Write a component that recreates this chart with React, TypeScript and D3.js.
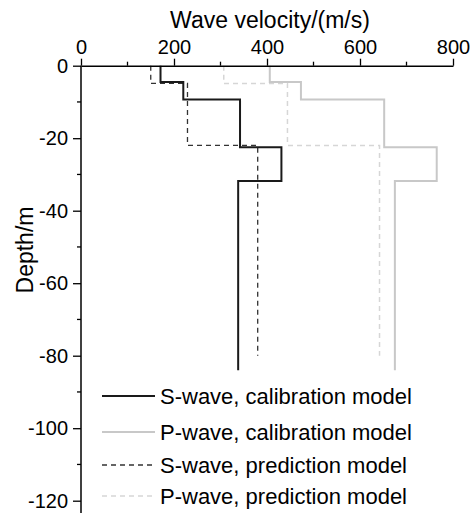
import React, { useEffect, useRef } from 'react';
import * as d3 from 'd3';

// layer boundaries (depth, m) and layer velocities (m/s)
const calDepths = [0, -4.5, -9.3, -22.5, -31.8, -84];
const sCalVel = [171, 220, 342, 431, 338];
const pCalVel = [406, 473, 652, 765, 675];

const predDepths = [0, -4.9, -22, -80];
const sPredVel = [150, 229, 380];
const pPredVel = [307, 444, 642];

const xTicks = [0, 200, 400, 600, 800];
const yTicks = [0, -20, -40, -60, -80, -100, -120];

const legendItems = [
  'S-wave, calibration model',
  'P-wave, calibration model',
  'S-wave, prediction model',
  'P-wave, prediction model',
];

const W = 471;
const H = 513;
const FONT = 'Liberation Sans, Arial, sans-serif';

const toSteps = (vel: number[], depths: number[]) => {
  const pts: [number, number][] = [];
  vel.forEach((v, i) => {
    pts.push([v, depths[i]]);
    pts.push([v, depths[i + 1]]);
  });
  return pts;
};

const App = () => {
  const svgRef = useRef<SVGSVGElement>(null);

  useEffect(() => {
    const svg = d3.select(svgRef.current);
    svg.selectAll('*').remove();

    const x = d3.scaleLinear().domain([0, 800]).range([81, 453]);
    const y = d3.scaleLinear().domain([0, -120]).range([65.7, 500.7]);

    const series = [
      { pts: toSteps(sCalVel, calDepths), color: '#1a1a1a', width: 2, dash: null },
      { pts: toSteps(pCalVel, calDepths), color: '#c8c8c8', width: 2, dash: null },
      { pts: toSteps(sPredVel, predDepths), color: '#333333', width: 1.3, dash: '5,4' },
      { pts: toSteps(pPredVel, predDepths), color: '#d6d6d6', width: 1.5, dash: '5,4' },
    ];

    const line = d3.line<[number, number]>()
      .x(d => x(d[0]))
      .y(d => y(d[1]));

    // draw dashed first so the solid lines stay on top
    [2, 3, 1, 0].forEach(i => {
      const s = series[i];
      svg.append('path')
        .attr('d', line(s.pts))
        .attr('fill', 'none')
        .attr('stroke', s.color)
        .attr('stroke-width', s.width)
        .attr('stroke-dasharray', s.dash);
    });

    const fmt = (d: d3.NumberValue) => String(d);

    // top axis
    const xAxis = svg.append('g')
      .attr('transform', `translate(0, ${y(0)})`)
      .call(d3.axisTop(x).tickValues(xTicks).tickFormat(fmt).tickSize(7).tickPadding(5).tickSizeOuter(0));
    xAxis.append('g').selectAll('line')
      .data([100, 300, 500, 700])
      .join('line')
      .attr('x1', d => x(d)).attr('x2', d => x(d))
      .attr('y1', 0).attr('y2', -4)
      .attr('stroke', '#000').attr('stroke-width', 1.3);

    // left axis
    const yAxis = svg.append('g')
      .attr('transform', `translate(${x(0)}, 0)`)
      .call(d3.axisLeft(y).tickValues(yTicks).tickFormat(fmt).tickSize(8).tickPadding(5).tickSizeOuter(0));
    yAxis.append('g').selectAll('line')
      .data([-10, -30, -50, -70, -90, -110])
      .join('line')
      .attr('x1', 0).attr('x2', -4)
      .attr('y1', d => y(d)).attr('y2', d => y(d))
      .attr('stroke', '#000').attr('stroke-width', 1.3);
    yAxis.select('.domain').attr('d', `M0,${y(0)}V${H}`);

    [xAxis, yAxis].forEach(a => {
      a.selectAll('.domain').attr('stroke', '#000').attr('stroke-width', 1.5);
      a.selectAll('.tick line').attr('stroke', '#000').attr('stroke-width', 1.3);
      a.selectAll('text').attr('font-size', 20).attr('font-family', FONT).attr('fill', '#000');
    });

    svg.append('text')
      .attr('x', (x(0) + x(800)) / 2 + 3)
      .attr('y', 28)
      .attr('text-anchor', 'middle')
      .attr('font-family', FONT)
      .attr('font-size', 23)
      .text('Wave velocity/(m/s)');

    svg.append('text')
      .attr('transform', `translate(33, ${250}) rotate(-90)`)
      .attr('text-anchor', 'middle')
      .attr('font-family', FONT)
      .attr('font-size', 23)
      .text('Depth/m');

    // legend
    const legY = [396, 432, 465, 496];
    const leg = svg.append('g');
    legendItems.forEach((label, i) => {
      const s = series[i];
      leg.append('line')
        .attr('x1', 102).attr('x2', 155)
        .attr('y1', legY[i]).attr('y2', legY[i])
        .attr('stroke', s.color)
        .attr('stroke-width', s.width)
        .attr('stroke-dasharray', s.dash);
      leg.append('text')
        .attr('x', 160)
        .attr('y', legY[i])
        .attr('dy', '0.35em')
        .attr('font-family', FONT)
        .attr('font-size', 22)
        .text(label);
    });
  }, []);

  return (
    <svg
      ref={svgRef}
      width={W}
      height={H}
      style={{ position: 'absolute', left: 0, top: 0, background: '#fff' }}
    />
  );
};

export default App;
